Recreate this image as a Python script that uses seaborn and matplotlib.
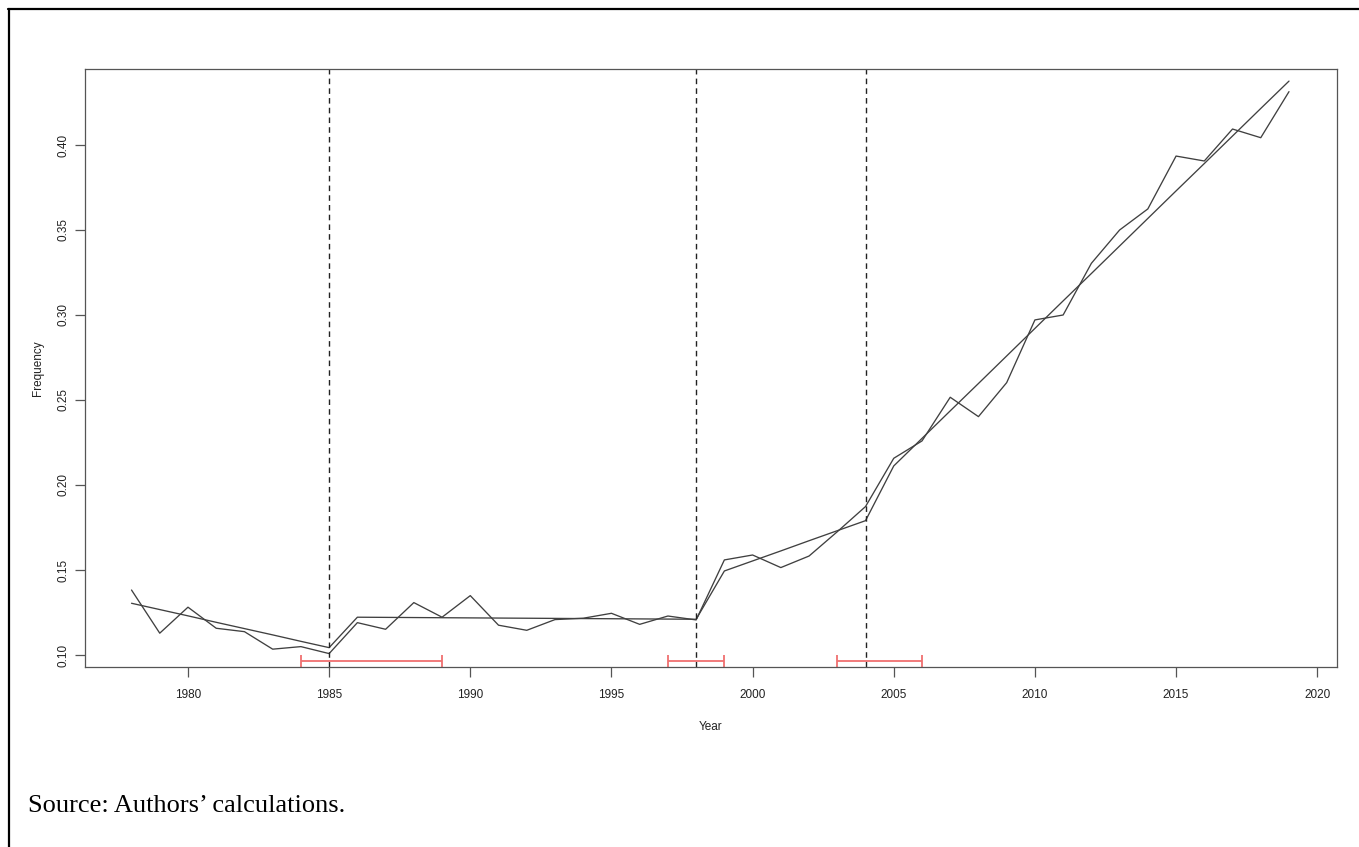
import matplotlib
matplotlib.use("Agg")
import matplotlib.pyplot as plt
from matplotlib.lines import Line2D
import pandas as pd
import seaborn as sns

# =========================
# DATA
# =========================
years = list(range(1978, 2020))

observed = [
    0.1382, 0.1128, 0.1281, 0.1157, 0.1137, 0.1034, 0.1049, 0.1008,  # 1978-1985
    0.1190, 0.1151, 0.1308, 0.1222, 0.1349, 0.1175, 0.1145, 0.1208,  # 1986-1993
    0.1216, 0.1245, 0.1180, 0.1229, 0.1206, 0.1559, 0.1588, 0.1514,  # 1994-2001
    0.1582, 0.1725, 0.1873, 0.2157, 0.2259, 0.2516, 0.2402, 0.2602,  # 2002-2009
    0.2971, 0.3000, 0.3304, 0.3500, 0.3624, 0.3935, 0.3906, 0.4094,  # 2010-2017
    0.4043, 0.4314,                                                  # 2018-2019
]

fitted = [
    0.1304, 0.1267, 0.1230, 0.1192, 0.1155, 0.1118, 0.1080, 0.1043,  # 1978-1985
    0.1222, 0.1221, 0.1220, 0.1219, 0.1218, 0.1217, 0.1216, 0.1215,  # 1986-1993
    0.1214, 0.1213, 0.1212, 0.1211, 0.1210, 0.1494, 0.1553, 0.1612,  # 1994-2001
    0.1672, 0.1731, 0.1790, 0.2112, 0.2274, 0.2436, 0.2597, 0.2759,  # 2002-2009
    0.2921, 0.3083, 0.3244, 0.3406, 0.3568, 0.3730, 0.3891, 0.4053,  # 2010-2017
    0.4215, 0.4376,                                                  # 2018-2019
]

breakpoints = [1985, 1998, 2004]
ci_low = [1984, 1997, 2003]
ci_high = [1989, 1999, 2006]
ci_level = 0.0965

x_ticks = [1980, 1985, 1990, 1995, 2000, 2005, 2010, 2015, 2020]
y_ticks = [0.10, 0.15, 0.20, 0.25, 0.30, 0.35, 0.40]

df = pd.DataFrame({"Year": years, "observed": observed, "fitted": fitted})

# =========================
# PLOT
# =========================
sns.set_style("ticks")
plt.rcParams["font.family"] = ["Liberation Sans", "DejaVu Sans"]

fig = plt.figure(figsize=(13.59, 8.47), dpi=100)
ax = fig.add_axes([0.0625, 0.2125, 0.9213, 0.706])

sns.lineplot(data=df, x="Year", y="observed", ax=ax, color="#404040", linewidth=0.95)
sns.lineplot(data=df, x="Year", y="fitted", ax=ax, color="#404040", linewidth=0.95)

for bp in breakpoints:
    ax.axvline(bp, color="#222222", linestyle=(0, (4, 3)), linewidth=1.0)

for lo, hi in zip(ci_low, ci_high):
    ax.errorbar((lo + hi) / 2, ci_level, xerr=(hi - lo) / 2, fmt="none",
                ecolor="#f07070", elinewidth=1.3, capsize=4, capthick=1.3)

ax.set_xlim(1976.35, 2020.7)
ax.set_ylim(0.0929, 0.4447)
ax.set_xticks(x_ticks)
ax.set_yticks(y_ticks)
ax.set_yticklabels([f"{v:.2f}" for v in y_ticks], rotation=90, va="center")
ax.tick_params(axis="both", length=7, width=0.9, color="#555555",
               labelsize=8.5, labelcolor="#222222")
ax.tick_params(axis="x", pad=9)
ax.tick_params(axis="y", pad=4)
for side in ["top", "right", "left", "bottom"]:
    ax.spines[side].set_visible(True)
    ax.spines[side].set_color("#555555")
    ax.spines[side].set_linewidth(0.9)

ax.set_xlabel("Year", fontsize=8.5, color="#222222", labelpad=14)
ax.set_ylabel("Frequency", fontsize=8.5, color="#222222", labelpad=10)

# frame around the figure (only top and left edges are visible in the crop)
fig.add_artist(Line2D([9 / 1359, 9 / 1359], [0, 1 - 9 / 847], color="black",
                      linewidth=1.6, transform=fig.transFigure))
fig.add_artist(Line2D([8 / 1359, 1], [1 - 9 / 847, 1 - 9 / 847], color="black",
                      linewidth=1.6, transform=fig.transFigure))

fig.text(28 / 1359, 1 - 806 / 847, "Source: Authors\u2019 calculations.",
         family=["Liberation Serif", "DejaVu Serif"], fontsize=19,
         va="center", ha="left", color="black")

fig.savefig("out.png", dpi=100)
